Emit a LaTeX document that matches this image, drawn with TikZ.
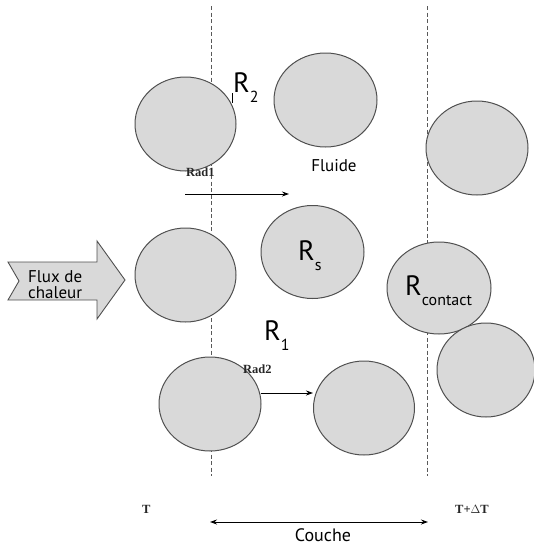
\documentclass[tikz,border=0pt]{standalone}
\usepackage{fontspec}
\setmainfont{PT Sans}
\newfontfamily\serifl{Liberation Serif}
\usetikzlibrary{shapes.geometric,arrows.meta}
\definecolor{ballfill}{HTML}{D9D9D9}
\definecolor{balledge}{HTML}{505050}
\newcommand{\RR}[1]{{\fontsize{28}{30}\selectfont R}\raisebox{-10pt}{\fontsize{16}{18}\selectfont #1}}
\tikzset{
  ball/.style={ellipse, fill=ballfill, draw=balledge, line width=1pt, inner sep=0pt, minimum width=101pt, minimum height=94pt},
  sep/.style={draw=black!65, line width=1pt, dash pattern=on 4pt off 2.5pt},
  lbl/.style={inner sep=0pt, font=\fontsize{17}{19}\selectfont},
  slbl/.style={inner sep=0pt, font=\serifl\bfseries\fontsize{12.5}{14}\selectfont, text=black!85},
  rl/.style={inner sep=0pt, anchor=base west},
  arr/.style={line width=0.9pt, -{Stealth[length=7pt,width=5pt]}},
}
\begin{document}
\begin{tikzpicture}[x=1pt,y=-1pt]
\useasboundingbox (0,0) rectangle (534,547);
% separators
\coordinate (s1t) at (211,6); \coordinate (s1b) at (211,476);
\coordinate (s2t) at (427,6); \coordinate (s2b) at (427,476);
\draw[sep] (s1t) -- (s1b);
\draw[sep] (s2t) -- (s2b);
% balls
\node[ball] (b1) at (185.5,124) {};
\node[ball, minimum width=103pt] (b2) at (325.5,100) {};
\node[ball, minimum width=102pt] (b3) at (477,148) {};
\node[ball] (b4) at (185.5,275) {};
\node[ball, minimum width=103pt, minimum height=93pt] (b5) at (312.5,252) {};
\node[ball, minimum width=104pt, minimum height=92pt] (b6) at (439,288) {};
\node[ball, minimum width=98pt] (b7) at (486,370) {};
\node[ball, minimum width=102pt] (b8) at (210,404) {};
\node[ball] (b9) at (364,408) {};
% heat flux arrow
\draw[fill=ballfill, draw=balledge, line width=0.9pt]
  (8,262) -- (97,262) -- (97,241) -- (125,280) -- (97,319) -- (97,300) -- (8,300) -- (19,281) -- cycle;
\node[lbl, anchor=base west] (flux) at (28,282) {Flux de};
\node[lbl, anchor=base west] (chal) at (28,298) {chaleur};
% labels
\node[rl] (r2) at (233,92) {\RR{2}};
\draw[black, line width=0.8pt] (232,93) -- (232,103);
\node[rl] (rs) at (298,260) {\RR{s}};
\node[rl] (rc) at (405,295) {\RR{contact}};
\node[rl] (r1) at (264,340) {\RR{1}};
\node[lbl, anchor=base] (fl) at (334,171) {Fluide};
% radiation
\node[slbl, anchor=base west] (rad1) at (186,176) {Rad1};
\coordinate (a1s) at (185,194); \coordinate (a1e) at (289,194);
\draw[arr] (a1s) -- (a1e);
\node[slbl, anchor=base west] (rad2) at (243,373) {Rad2};
\coordinate (a2s) at (261,393); \coordinate (a2e) at (313,393);
\draw[arr] (a2s) -- (a2e);
% bottom
\node[slbl, anchor=base west] (t1) at (142,513) {T};
\node[slbl, anchor=base west] (t2) at (455,513) {T+$\Delta$T};
\coordinate (c1) at (210,522); \coordinate (c2) at (428,522);
\draw[line width=0.9pt, {Stealth[length=7pt,width=5pt]}-{Stealth[length=7pt,width=5pt]}] (c1) -- (c2);
\node[lbl, anchor=base, font=\fontsize{18}{20}\selectfont] (couche) at (323,541) {Couche};
\end{tikzpicture}
\end{document}
